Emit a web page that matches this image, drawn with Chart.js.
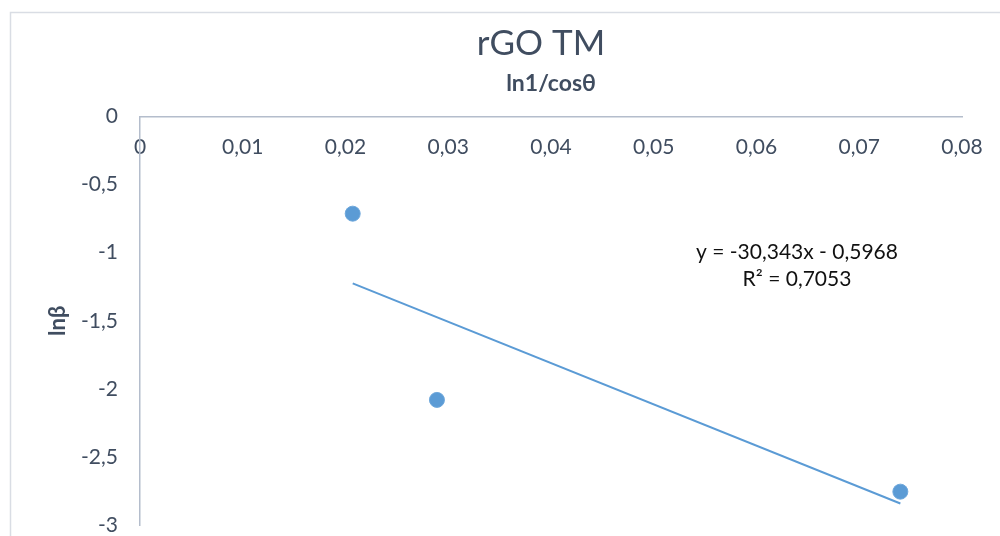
<!DOCTYPE html>
<html>
<head>
<meta charset="utf-8">
<script src="https://cdn.jsdelivr.net/npm/chart.js@4.4.1/dist/chart.umd.min.js"></script>
<style>
  html, body { margin: 0; padding: 0; background: #ffffff; }
  canvas { display: block; }
</style>
</head>
<body>
<canvas id="chart" width="1000" height="536"></canvas>
<script>
// Chart texts
const chartTitle = 'rGO TM';
const xAxisTitle = 'ln1/cosθ';
const yAxisTitle = 'lnβ';

// Measured points (ln1/cosθ, lnβ)
const xValues = [0.0207, 0.0289, 0.0740];
const yValues = [-0.713, -2.081, -2.755];

// Linear trendline coefficients
const trendSlope = -30.343;
const trendIntercept = -0.5968;
const trendR2 = 0.7053;

// Axis tick labels (decimal comma)
const xTickLabels = ['0', '0,01', '0,02', '0,03', '0,04', '0,05', '0,06', '0,07', '0,08'];
const yTickLabels = ['-3', '-2,5', '-2', '-1,5', '-1', '-0,5', '0'];

const TEXT = '#404D60';
const AXIS = '#B4BDCC';
const BLUE = '#5B9BD5';
const FONT = 'Lato, "Open Sans", sans-serif';

const fmt = (v, d) => v.toFixed(d).replace('.', ',');

const points = xValues.map((x, i) => ({ x: x, y: yValues[i] }));
const trendX = [Math.min(...xValues), Math.max(...xValues)];
const trendPoints = trendX.map(x => ({ x: x, y: trendSlope * x + trendIntercept }));

const equationLines = [
  'y = ' + fmt(trendSlope, 3) + 'x ' + (trendIntercept < 0 ? '- ' : '+ ') + fmt(Math.abs(trendIntercept), 4),
  'R² = ' + fmt(trendR2, 4)
];

// Outer chart frame
const framePlugin = {
  id: 'frame',
  beforeDraw(chart) {
    const ctx = chart.ctx;
    ctx.save();
    ctx.fillStyle = '#ffffff';
    ctx.fillRect(0, 0, chart.width, chart.height);
    ctx.strokeStyle = '#D9DDE4';
    ctx.lineWidth = 1.5;
    ctx.beginPath();
    ctx.moveTo(10.5, chart.height + 5);
    ctx.lineTo(10.5, 12.5);
    ctx.lineTo(chart.width + 5, 12.5);
    ctx.stroke();
    ctx.restore();
  }
};

// Chart title and trendline equation
const textPlugin = {
  id: 'texts',
  afterDraw(chart) {
    const ctx = chart.ctx;
    ctx.save();
    ctx.fillStyle = TEXT;
    ctx.textAlign = 'center';
    ctx.textBaseline = 'alphabetic';
    ctx.font = '35px ' + FONT;
    ctx.fillText(chartTitle, 541, 55);

    ctx.fillStyle = '#111111';
    ctx.font = '21px ' + FONT;
    ctx.fillText(equationLines[0], 797, 259);
    ctx.fillText(equationLines[1], 797, 286);
    ctx.restore();
  }
};

new Chart(document.getElementById('chart'), {
  type: 'scatter',
  data: {
    datasets: [
      {
        label: 'lnβ',
        data: points,
        backgroundColor: BLUE,
        borderColor: '#6FA8DC',
        borderWidth: 1,
        pointRadius: 7.5,
        pointHoverRadius: 7.5
      },
      {
        label: 'Linear',
        type: 'line',
        data: trendPoints,
        borderColor: BLUE,
        borderWidth: 2,
        pointRadius: 0,
        fill: false,
        tension: 0
      }
    ]
  },
  options: {
    responsive: false,
    animation: false,
    devicePixelRatio: 1,
    layout: { padding: { left: 0, right: 38, top: 60, bottom: 11 } },
    plugins: {
      legend: { display: false },
      tooltip: { enabled: false },
      title: { display: false },
      subtitle: {
        display: true,
        text: xAxisTitle,
        fullSize: false,
        color: TEXT,
        font: { family: FONT, size: 23, weight: 'bold' },
        padding: { top: 10, bottom: 19 }
      }
    },
    scales: {
      x: {
        type: 'linear',
        position: { y: 0 },
        min: 0,
        max: 0.08,
        grid: { display: false, drawTicks: false },
        border: { display: true, color: AXIS, width: 1.5 },
        ticks: {
          stepSize: 0.01,
          padding: 18,
          color: TEXT,
          font: { family: FONT, size: 21 },
          maxRotation: 0,
          autoSkip: false,
          callback: (v, i) => xTickLabels[i]
        },
        afterFit(scale) {
          scale.height = 0;
          scale.paddingLeft = 0;
          scale.paddingRight = 0;
        }
      },
      y: {
        type: 'linear',
        position: 'left',
        min: -3,
        max: 0,
        grid: { display: false, drawTicks: false },
        border: { display: true, color: AXIS, width: 1.5 },
        ticks: {
          stepSize: 0.5,
          padding: 22,
          color: TEXT,
          font: { family: FONT, size: 21 },
          autoSkip: false,
          callback: (v, i) => yTickLabels[i]
        },
        title: {
          display: true,
          text: yAxisTitle,
          color: TEXT,
          font: { family: FONT, size: 22, weight: 'bold' },
          padding: { top: 45, bottom: 0 }
        },
        afterFit(scale) {
          scale.width = 140;
          scale.paddingTop = 0;
          scale.paddingBottom = 0;
        }
      }
    }
  },
  plugins: [framePlugin, textPlugin]
});
</script>
</body>
</html>
